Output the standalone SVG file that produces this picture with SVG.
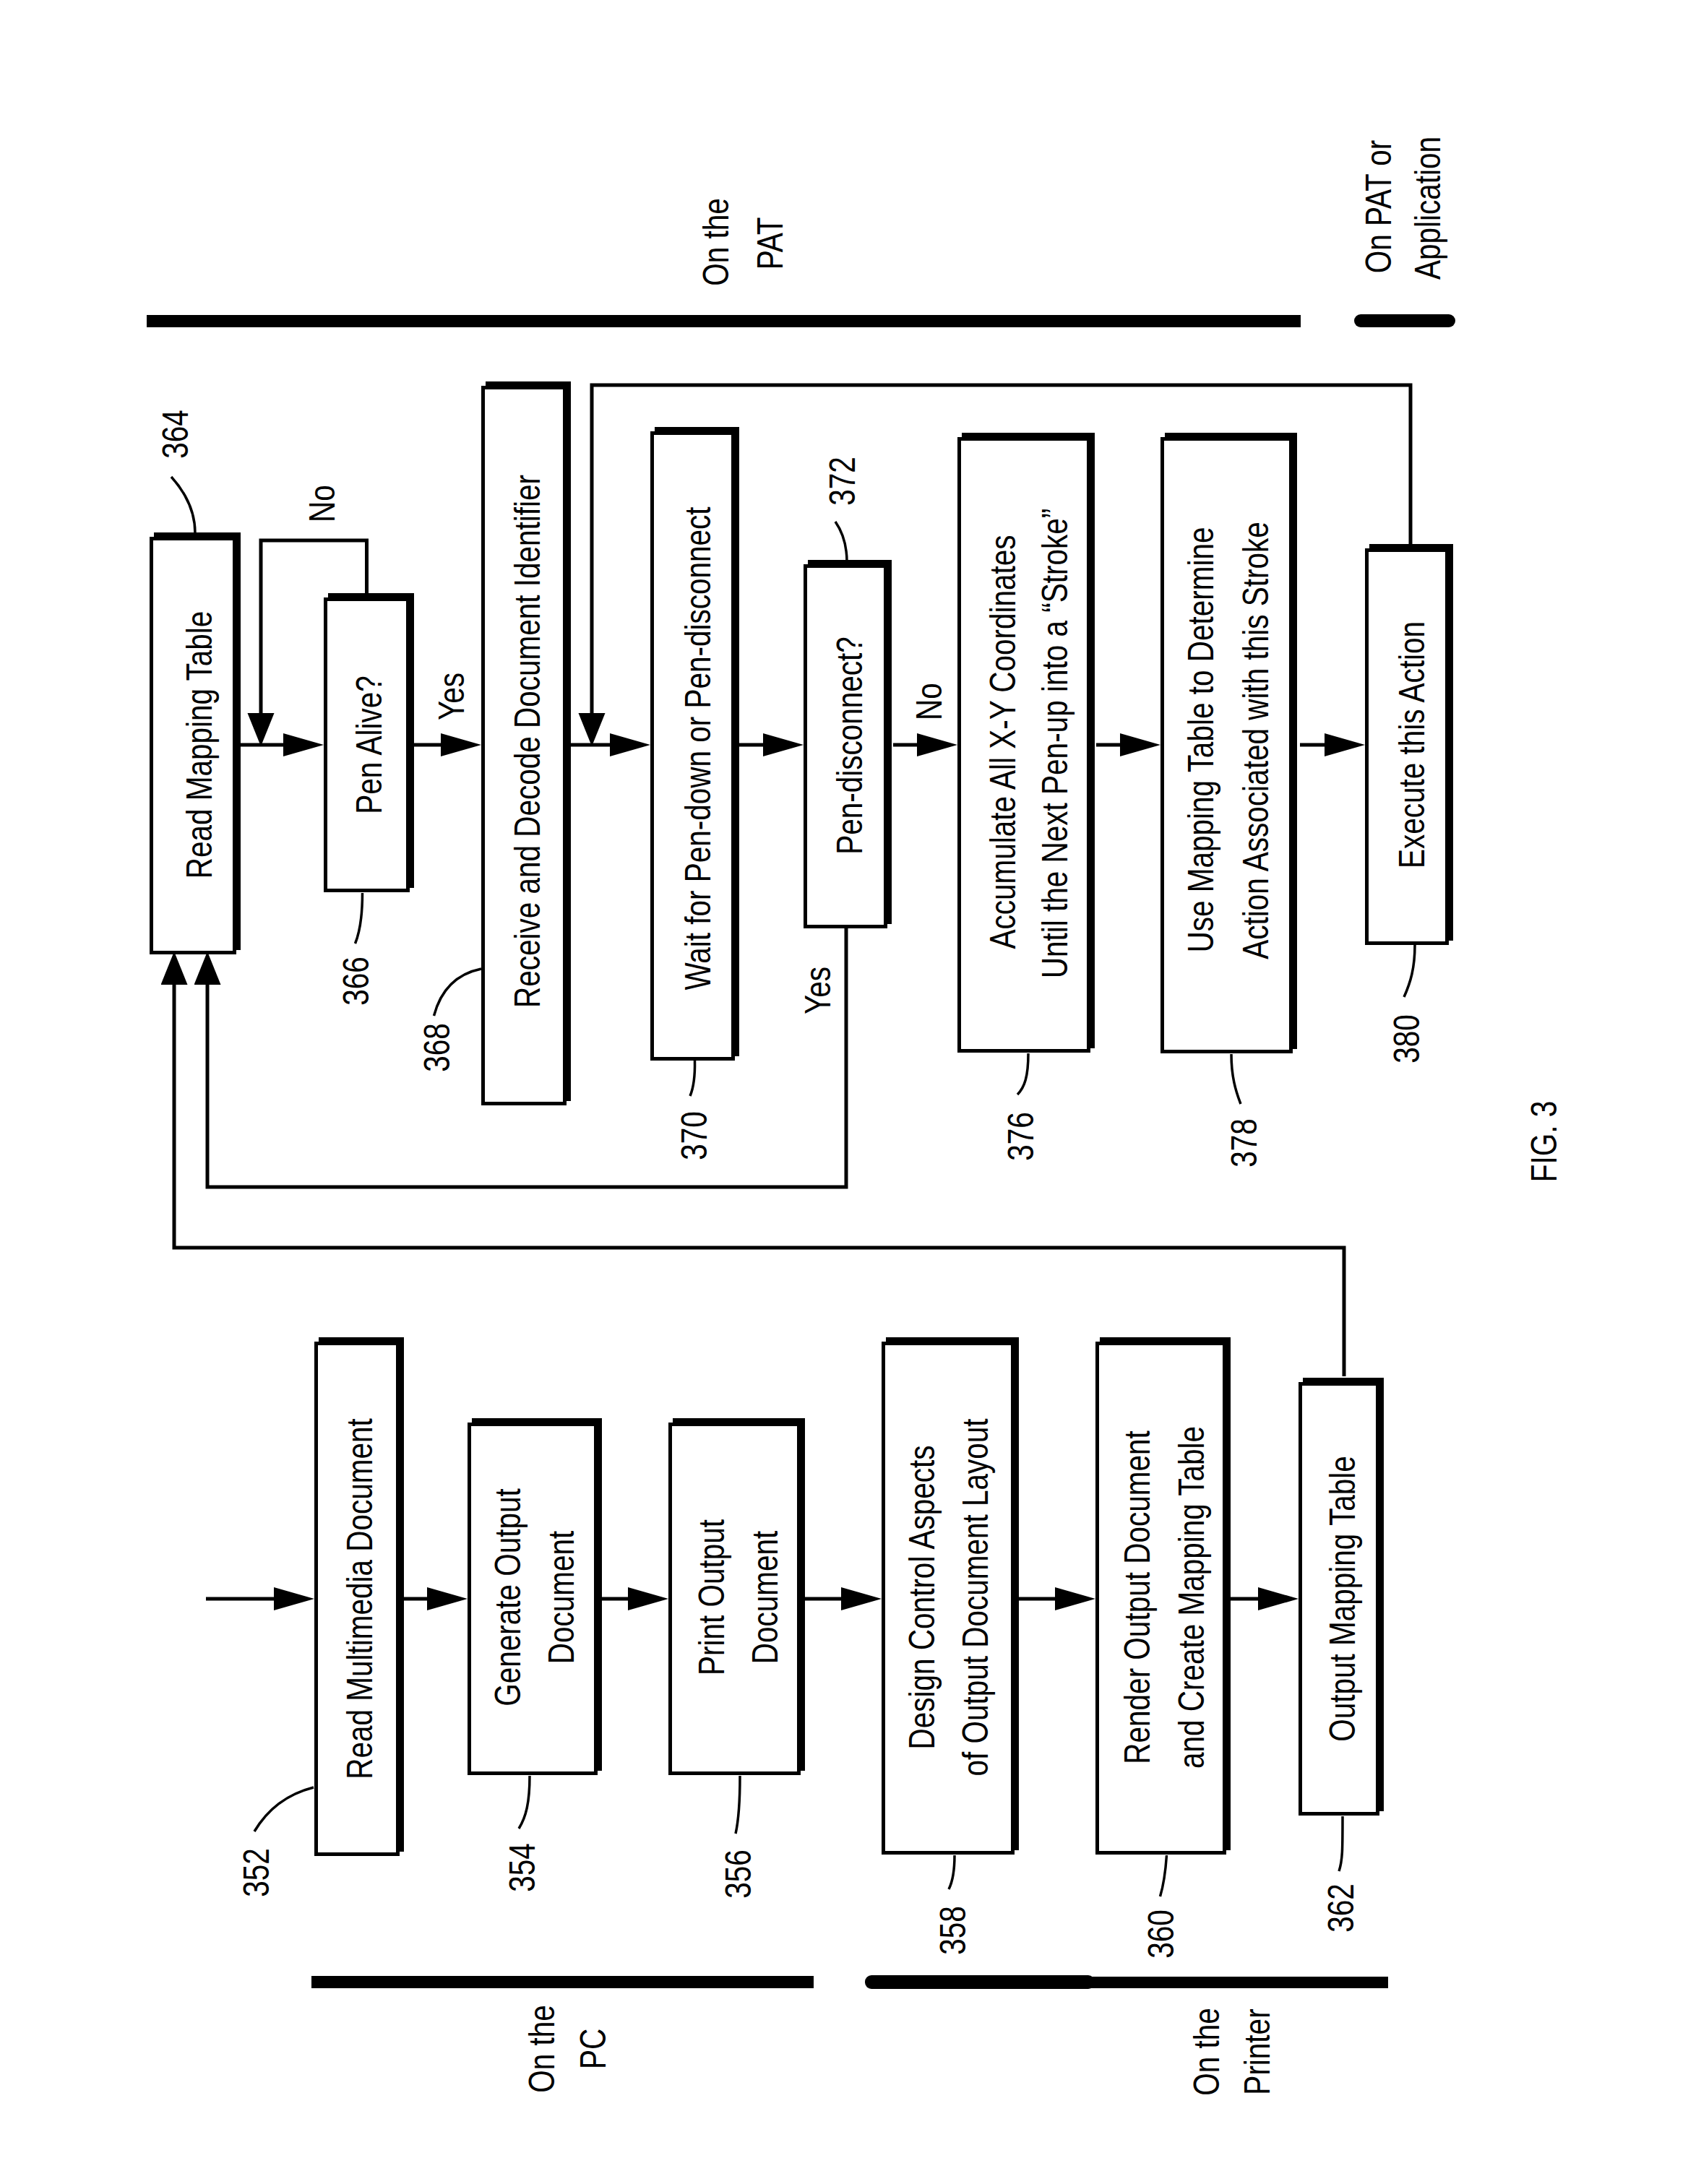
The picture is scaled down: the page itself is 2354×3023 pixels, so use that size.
<svg xmlns="http://www.w3.org/2000/svg" width="2354" height="3023" viewBox="0 0 2354 3023">
<style>
.t{font-family:"Liberation Sans",Arial,sans-serif;font-size:50px;fill:#000;text-anchor:middle}
.box{fill:#fff;stroke:#000;stroke-width:5}
.sh{fill:#000}
.ln{fill:none;stroke:#000;stroke-width:5}
.ld{fill:none;stroke:#000;stroke-width:3.5}
.bar{fill:#000}
</style>
<defs>
<marker id="ah" markerUnits="userSpaceOnUse" markerWidth="60" markerHeight="40" refX="31" refY="16" orient="auto">
<path d="M0,0 L56,16 L0,32 z" fill="#000"/>
</marker>
<marker id="av" markerUnits="userSpaceOnUse" markerWidth="50" markerHeight="40" refX="21" refY="18.5" orient="auto">
<path d="M0,0 L46,18.5 L0,37 z" fill="#000"/>
</marker>
</defs>
<rect width="2354" height="3023" fill="#fff"/>

<g id="lanes">
<rect class="bar" x="203" y="436" width="1597" height="17"/>
<rect class="bar" x="1874" y="435" width="140" height="18" rx="9"/>
<rect class="bar" x="431" y="2735" width="695" height="17"/>
<rect class="bar" x="1197" y="2734" width="318" height="19" rx="9"/>
<rect class="bar" x="1510" y="2736" width="411" height="16"/>
<text class="t" transform="translate(1008,335) rotate(-90) scale(0.81,1)">On the</text>
<text class="t" transform="translate(1083,337) rotate(-90) scale(0.81,1)">PAT</text>
<text class="t" transform="translate(1925,286) rotate(-90) scale(0.81,1)">On PAT or</text>
<text class="t" transform="translate(1993,288) rotate(-90) scale(0.81,1)">Application</text>
<text class="t" transform="translate(767,2836) rotate(-90) scale(0.81,1)">On the</text>
<text class="t" transform="translate(838,2836) rotate(-90) scale(0.81,1)">PC</text>
<text class="t" transform="translate(1687,2840) rotate(-90) scale(0.81,1)">On the</text>
<text class="t" transform="translate(1757,2840) rotate(-90) scale(0.81,1)">Printer</text>
</g>

<g id="connectors">
<path class="ln" d="M333,1031 H423" marker-end="url(#ah)"/>
<path class="ln" d="M507.5,827 V748 H361 V1008" marker-end="url(#av)"/>
<path class="ln" d="M573,1031 H641" marker-end="url(#ah)"/>
<path class="ln" d="M789,1031 H875" marker-end="url(#ah)"/>
<path class="ln" d="M1952,759 V533 H819 V1008" marker-end="url(#av)"/>
<path class="ln" d="M1023,1031 H1087" marker-end="url(#ah)"/>
<path class="ln" d="M1236,1031 H1300" marker-end="url(#ah)"/>
<path class="ln" d="M1517,1031 H1581" marker-end="url(#ah)"/>
<path class="ln" d="M1799,1031 H1864" marker-end="url(#ah)"/>
<path class="ln" d="M1171,1285 V1643 H287 V1342" marker-end="url(#av)"/>
<path class="ln" d="M1860,1905 V1727 H241 V1342" marker-end="url(#av)"/>
<path class="ln" d="M285,2213 H410" marker-end="url(#ah)"/>
<path class="ln" d="M559,2213 H622" marker-end="url(#ah)"/>
<path class="ln" d="M833,2213 H900" marker-end="url(#ah)"/>
<path class="ln" d="M1114,2213 H1195" marker-end="url(#ah)"/>
<path class="ln" d="M1410,2213 H1491" marker-end="url(#ah)"/>
<path class="ln" d="M1703,2213 H1772" marker-end="url(#ah)"/>
<text class="t" transform="translate(463,697) rotate(-90) scale(0.81,1)">No</text>
<text class="t" transform="translate(642,964) rotate(-90) scale(0.81,1)">Yes</text>
<text class="t" transform="translate(1303,971) rotate(-90) scale(0.81,1)">No</text>
<text class="t" transform="translate(1149,1371) rotate(-90) scale(0.81,1)">Yes</text>
</g>

<g id="n364">
<rect class="sh" x="213" y="737" width="120" height="578"/>
<rect class="box" x="209.5" y="745.5" width="115" height="573"/>
<text class="t" transform="translate(293,1031) rotate(-90) scale(0.81,1)">Read Mapping Table</text>
<path class="ld" d="M270,738 C270,705 255,680 237,660"/>
<text class="t" transform="translate(260,601) rotate(-90) scale(0.81,1)">364</text>
</g>
<g id="n366">
<rect class="sh" x="454" y="821" width="119" height="408"/>
<rect class="box" x="450.5" y="829.5" width="114" height="403"/>
<text class="t" transform="translate(528,1031) rotate(-90) scale(0.81,1)">Pen Alive?</text>
<path class="ld" d="M501.5,1236 C501.5,1270 498,1290 491.5,1306"/>
<text class="t" transform="translate(510,1358) rotate(-90) scale(0.81,1)">366</text>
</g>
<g id="n368">
<rect class="sh" x="672" y="528" width="118" height="996"/>
<rect class="box" x="668.5" y="536.5" width="113" height="991"/>
<text class="t" transform="translate(747,1026) rotate(-90) scale(0.81,1)">Receive and Decode Document Identifier</text>
<path class="ld" d="M666,1341 C632,1348 610,1370 600.5,1406"/>
<text class="t" transform="translate(622,1450) rotate(-90) scale(0.81,1)">368</text>
</g>
<g id="n370">
<rect class="sh" x="906" y="591" width="117" height="871"/>
<rect class="box" x="902.5" y="599.5" width="112" height="866"/>
<text class="t" transform="translate(983,1036) rotate(-90) scale(0.81,1)">Wait for Pen-down or Pen-disconnect</text>
<path class="ld" d="M961.5,1468 C962,1490 960,1505 955,1517"/>
<text class="t" transform="translate(978,1572) rotate(-90) scale(0.81,1)">370</text>
</g>
<g id="n372">
<rect class="sh" x="1118" y="775" width="116" height="504"/>
<rect class="box" x="1114.5" y="783.5" width="111" height="499"/>
<text class="t" transform="translate(1193,1032) rotate(-90) scale(0.81,1)">Pen-disconnect?</text>
<path class="ld" d="M1172,778 C1172,752 1165,735 1156,722"/>
<text class="t" transform="translate(1183,666) rotate(-90) scale(0.81,1)">372</text>
</g>
<g id="n376">
<rect class="sh" x="1331" y="599" width="184" height="852"/>
<rect class="box" x="1327.5" y="607.5" width="179" height="847"/>
<text class="t" transform="translate(1405,1027) rotate(-90) scale(0.81,1)">Accumulate All X-Y Coordinates</text>
<text class="t" transform="translate(1477,1029) rotate(-90) scale(0.81,1)">Until the Next Pen-up into a “Stroke”</text>
<path class="ld" d="M1423,1458 C1423,1490 1418,1505 1408,1515"/>
<text class="t" transform="translate(1430,1573) rotate(-90) scale(0.81,1)">376</text>
</g>
<g id="n378">
<rect class="sh" x="1612" y="599" width="183" height="853"/>
<rect class="box" x="1608.5" y="607.5" width="178" height="848"/>
<text class="t" transform="translate(1679,1024) rotate(-90) scale(0.81,1)">Use Mapping Table to Determine</text>
<text class="t" transform="translate(1755,1025) rotate(-90) scale(0.81,1)">Action Associated with this Stroke</text>
<path class="ld" d="M1704,1459 C1704,1490 1710,1510 1717,1528"/>
<text class="t" transform="translate(1739,1582) rotate(-90) scale(0.81,1)">378</text>
</g>
<g id="n380">
<rect class="sh" x="1895" y="753" width="116" height="549"/>
<rect class="box" x="1891.5" y="761.5" width="111" height="544"/>
<text class="t" transform="translate(1971,1031) rotate(-90) scale(0.81,1)">Execute this Action</text>
<path class="ld" d="M1958,1308 C1958,1340 1952,1360 1943,1380"/>
<text class="t" transform="translate(1964,1438) rotate(-90) scale(0.81,1)">380</text>
</g>

<g id="n352">
<rect class="sh" x="441" y="1851" width="118" height="712"/>
<rect class="box" x="437.5" y="1859.5" width="113" height="707"/>
<text class="t" transform="translate(515,2213) rotate(-90) scale(0.81,1)">Read Multimedia Document</text>
<path class="ld" d="M434,2474 C395,2484 370,2505 352,2535"/>
<text class="t" transform="translate(372,2592) rotate(-90) scale(0.81,1)">352</text>
</g>
<g id="n354">
<rect class="sh" x="653" y="1963" width="180" height="488"/>
<rect class="box" x="649.5" y="1971.5" width="175" height="483"/>
<text class="t" transform="translate(720,2211) rotate(-90) scale(0.81,1)">Generate Output</text>
<text class="t" transform="translate(794,2211) rotate(-90) scale(0.81,1)">Document</text>
<path class="ld" d="M733,2458 C733,2495 728,2515 718,2531"/>
<text class="t" transform="translate(740,2585) rotate(-90) scale(0.81,1)">354</text>
</g>
<g id="n356">
<rect class="sh" x="931" y="1963" width="183" height="488"/>
<rect class="box" x="927.5" y="1971.5" width="178" height="483"/>
<text class="t" transform="translate(1002,2211) rotate(-90) scale(0.81,1)">Print Output</text>
<text class="t" transform="translate(1076,2211) rotate(-90) scale(0.81,1)">Document</text>
<path class="ld" d="M1024,2458 C1024,2500 1022,2520 1018,2538"/>
<text class="t" transform="translate(1039,2594) rotate(-90) scale(0.81,1)">356</text>
</g>
<g id="n358">
<rect class="sh" x="1226" y="1851" width="184" height="710"/>
<rect class="box" x="1222.5" y="1859.5" width="179" height="705"/>
<text class="t" transform="translate(1293,2211) rotate(-90) scale(0.81,1)">Design Control Aspects</text>
<text class="t" transform="translate(1367,2211) rotate(-90) scale(0.81,1)">of Output Document Layout</text>
<path class="ld" d="M1321,2568 C1321,2590 1318,2605 1313,2615"/>
<text class="t" transform="translate(1336,2672) rotate(-90) scale(0.81,1)">358</text>
</g>
<g id="n360">
<rect class="sh" x="1522" y="1851" width="181" height="710"/>
<rect class="box" x="1518.5" y="1859.5" width="176" height="705"/>
<text class="t" transform="translate(1591,2211) rotate(-90) scale(0.81,1)">Render Output Document</text>
<text class="t" transform="translate(1666,2211) rotate(-90) scale(0.81,1)">and Create Mapping Table</text>
<path class="ld" d="M1614.5,2568 C1613,2590 1610,2610 1605.5,2625"/>
<text class="t" transform="translate(1624,2677) rotate(-90) scale(0.81,1)">360</text>
</g>
<g id="n362">
<rect class="sh" x="1803" y="1907" width="112" height="600"/>
<rect class="box" x="1799.5" y="1915.5" width="107" height="595"/>
<text class="t" transform="translate(1875,2213) rotate(-90) scale(0.81,1)">Output Mapping Table</text>
<path class="ld" d="M1858,2514 C1858,2560 1858,2575 1853,2590"/>
<text class="t" transform="translate(1873,2641) rotate(-90) scale(0.81,1)">362</text>
</g>

<g id="caption">
<text class="t" transform="translate(2154,1580) rotate(-90) scale(0.81,1)">FIG. 3</text>
</g>
</svg>
